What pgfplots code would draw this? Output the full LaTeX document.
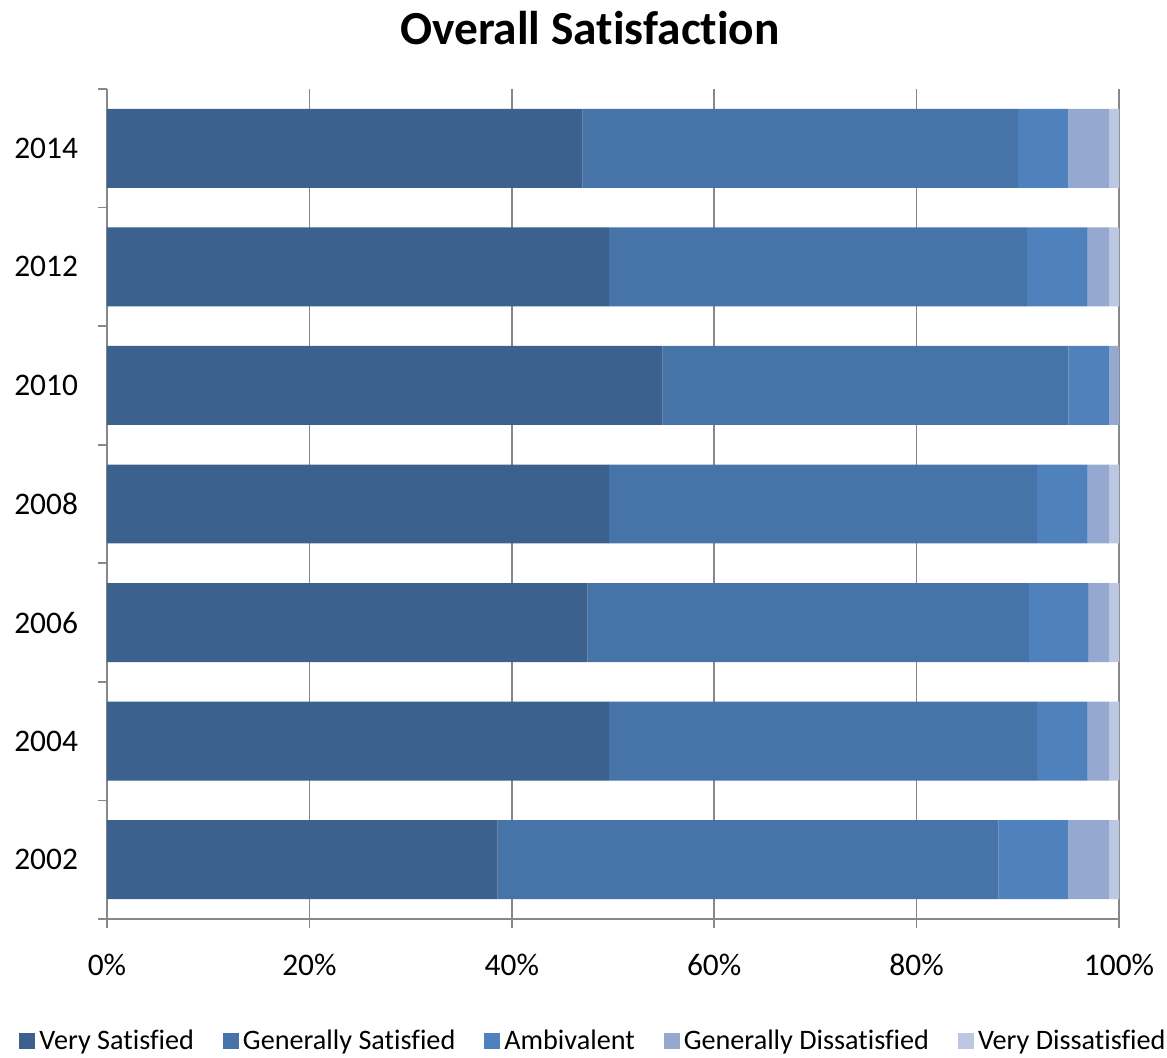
\documentclass[border=0pt]{standalone}
\usepackage{pgfplots}
\pgfplotsset{compat=1.18}
\usepackage{pgfplotstable}
\usepackage{fontspec}
\setmainfont{Carlito}[Ligatures=NoCommon]
\definecolor{cVS}{HTML}{3C618E}
\definecolor{cGS}{HTML}{4674A8}
\definecolor{cAM}{HTML}{4F81BD}
\definecolor{cGD}{HTML}{95A9D0}
\definecolor{cVD}{HTML}{BCC8E1}
\definecolor{axgray}{HTML}{888888}
\pgfplotstableread{
year VS GS Amb GD VD
0 38.6 49.5 6.9 4.0 1.0
1 49.6 42.3 5.0 2.1 1.0
2 47.5 43.6 5.9 2.0 1.0
3 49.6 42.3 5.0 2.1 1.0
4 54.9 40.1 4.0 1.0 0.0
5 49.6 41.3 6.0 2.1 1.0
6 47.0 43.0 5.0 4.0 1.0
}\datatable
\begin{document}
\begin{tikzpicture}
\useasboundingbox (-53.5pt,-69.5pt) rectangle (530pt,459.5pt);
\begin{axis}[
  at={(0,0)}, anchor=south west,
  scale only axis, width=506pt, height=415pt,
  xbar stacked, bar width=0.666,
  xmin=0, xmax=100, ymin=-0.5, ymax=6.5,
  axis x line*=bottom, axis y line*=left,
  axis line style={draw=axgray, line width=0.8pt},
  xtick={0,20,...,100},
  xticklabels={0\%,20\%,40\%,60\%,80\%,100\%},
  minor xtick={0,20,...,100},
  ytick={0,...,6},
  yticklabels={2002,2004,2006,2008,2010,2012,2014},
  minor ytick={-0.5,0.5,...,6.5},
  major tick length=0pt, minor tick length=4.5pt,
  tick align=outside,
  tick style={draw=axgray, line width=0.8pt},
  xmajorgrids,
  grid style={draw=axgray, line width=0.8pt},
  tick label style={font=\fontsize{15.7}{18}\selectfont},
  xticklabel style={yshift=-14pt},
  yticklabel style={xshift=-11pt},
  /pgf/number format/assume math mode=true,
  legend columns=5,
  legend style={at={(0.4817,-0.147)}, anchor=center, draw=none, fill=none,
    font=\fontsize{14.1}{16}\selectfont,
    /tikz/every even column/.append style={column sep=12.5pt}},
  legend image code/.code={\fill[#1] (-3.5pt,-4pt) rectangle (4.5pt,4pt);},
  every axis plot/.append style={draw=none},
]
\addplot[fill=cVS] table[x=VS, y=year] {\datatable};
\addplot[fill=cGS] table[x=GS, y=year] {\datatable};
\addplot[fill=cAM] table[x=Amb, y=year] {\datatable};
\addplot[fill=cGD] table[x=GD, y=year] {\datatable};
\addplot[fill=cVD] table[x=VD, y=year] {\datatable};
\legend{Very Satisfied, Generally Satisfied, Ambivalent, Generally Dissatisfied, Very Dissatisfied}
\end{axis}
\node[font=\bfseries\fontsize{23.7}{28}\selectfont] at (241.5pt,445.5pt) {Overall Satisfaction};
\end{tikzpicture}
\end{document}
